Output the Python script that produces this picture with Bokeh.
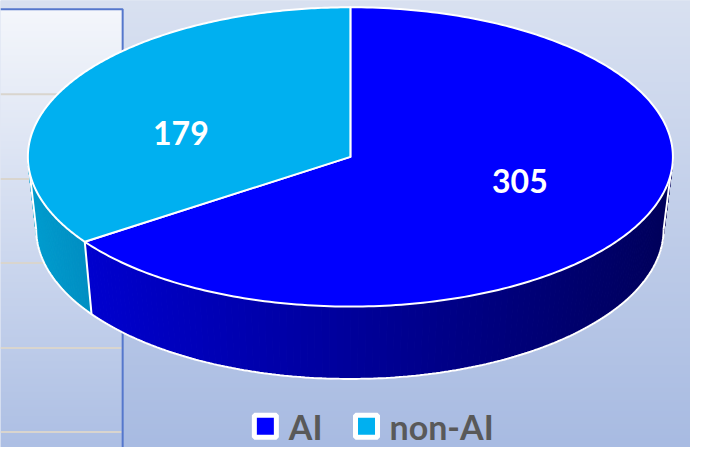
import numpy as np
from bokeh.plotting import figure
from bokeh.models import Range1d
from bokeh.core.properties import value
from bokeh.embed import file_html
from bokeh.resources import INLINE

# ---- data ----
categories = ["AI", "non-AI"]
counts = [305, 179]

# ---- styles ----
top_colors = ["#0000FF", "#00B0F0"]
side_left_rgb = [(0, 0, 206), (0, 156, 206)]
side_right_rgb = [(0, 0, 92), (0, 140, 192)]
label_font = "Lato"

# ---- geometry (reference pixel space, y downward) ----
CX, CY, A, B = 358.0, 162.0, 330.0, 155.0        # top ellipse
CXB, CYB, AB, BB = 357.5, 237.0, 321.0, 155.0    # bottom ellipse
WARP = 8.6                                       # perspective warp (deg)
REF_W, REF_H = 706, 463


def warp(theta):
    u = np.radians(np.asarray(theta, dtype=float) - 90.0)
    return np.asarray(theta, dtype=float) + WARP * np.sin(2 * u)


def top_pt(theta, r=1.0):
    t = np.radians(warp(theta))
    return CX + r * A * np.cos(t), CY + r * B * np.sin(t)


def bot_pt(theta):
    t = np.radians(warp(theta))
    return CXB + AB * np.cos(t), CYB + BB * np.sin(t)


p = figure(width=690, height=447, x_range=Range1d(0, REF_W), y_range=Range1d(-REF_H, 0),
           output_backend="svg", toolbar_location=None, min_border=0,
           x_axis_type=None, y_axis_type=None)
p.grid.visible = False
p.outline_line_color = None
p.background_fill_color = "#C4D0EA"
p.border_fill_color = "#C4D0EA"

# ---- background gradient ----
H, W = 463, 706
yref = REF_H - (np.arange(H) + 0.5)
xref = np.arange(W) + 0.5
fy = (yref / float(REF_H))[:, None]
out_top = np.array([217, 225, 241.0]); out_bot = np.array([168, 187, 226.0])
pan_top = np.array([246, 248, 252.0]); pan_bot = np.array([173, 191, 228.0])
rgb = np.zeros((H, W, 3))
inside = (xref[None, :] < 125) & (yref[:, None] > 9)
for c in range(3):
    o = out_top[c] + (out_bot[c] - out_top[c]) * fy
    pn = pan_top[c] + (pan_bot[c] - pan_top[c]) * fy
    rgb[..., c] = np.where(inside, pn, o)
img = np.empty((H, W), dtype=np.uint32)
view = img.view(dtype=np.uint8).reshape((H, W, 4))
view[..., 0] = rgb[..., 0].astype(np.uint8)
view[..., 1] = rgb[..., 1].astype(np.uint8)
view[..., 2] = rgb[..., 2].astype(np.uint8)
view[..., 3] = 255
p.image_rgba(image=[img], x=0, y=-REF_H, dw=REF_W, dh=REF_H)

# panel gridlines and border (behind chart)
for gy in [97, 185, 272, 360, 447]:
    p.line([0, 124], [-gy, -gy], line_color="#D9D5CE", line_width=2)
p.line([0, 125, 125], [-9, -9, -REF_H], line_color="#5577CC", line_width=2)

# ---- slice angles from data ----
total = float(sum(counts))
starts, ends = [], []
ang = -90.0
for c in counts:
    starts.append(ang)
    ang += 360.0 * c / total
    ends.append(ang)


def lerp_col(c0, c1, f):
    f = min(max(f, 0.0), 1.0)
    return "#%02x%02x%02x" % tuple(int(round(a + (b - a) * f)) for a, b in zip(c0, c1))


# ---- side walls (visible front half: theta in [0,180]) ----
for i in range(len(categories)):
    lo_v, hi_v = max(starts[i], 0.0), min(ends[i], 180.0)
    if hi_v <= lo_v:
        continue
    n = int(np.ceil(hi_v - lo_v))
    th = np.linspace(lo_v, hi_v, n + 1)
    xs, ys, cols = [], [], []
    x0 = 90.0 if i == 0 else 30.0
    x1 = 680.0 if i == 0 else 95.0
    for k in range(n):
        tx0, ty0 = top_pt(th[k]); tx1, ty1 = top_pt(th[k + 1])
        bx0, by0 = bot_pt(th[k]); bx1, by1 = bot_pt(th[k + 1])
        xs.append([tx0, tx1, bx1, bx0])
        ys.append([-ty0, -ty1, -by1, -by0])
        xm = (tx0 + tx1) / 2
        cols.append(lerp_col(side_left_rgb[i], side_right_rgb[i], (xm - x0) / (x1 - x0)))
    p.patches(xs, ys, fill_color=cols, line_color=cols, line_width=1)

# side outlines
thb = np.linspace(0, 180, 300)
bx, by = bot_pt(thb)
p.line(bx, -by, line_color="white", line_width=2)
for th in [0.0, 180.0] + [e for e in ends[:-1] if 0 < e < 180]:
    tx, ty = top_pt(th); bx_, by_ = bot_pt(th)
    p.line([tx, bx_], [-ty, -by_], line_color="white", line_width=2)

# ---- top faces ----
for i in range(len(categories)):
    th = np.linspace(starts[i], ends[i], 300)
    ax, ay = top_pt(th)
    xs = np.concatenate([[CX], ax, [CX]])
    ys = np.concatenate([[CY], ay, [CY]])
    p.patch(xs, -ys, fill_color=top_colors[i], line_color="white", line_width=2,
            line_join="round")

# ---- data labels ----
lx, ly = [], []
for i in range(len(categories)):
    mid = (starts[i] + ends[i]) / 2.0
    x, y = top_pt(mid, r=0.55)
    lx.append(float(x)); ly.append(-float(y))
p.text(x=lx, y=ly, text=[str(c) for c in counts], text_font=value(label_font),
       text_font_style="bold", text_font_size="32px", text_color="white",
       text_align="center", text_baseline="middle")

# ---- legend ----
leg_sq_x = [271, 374.5]
leg_tx_x = [295, 398]
p.scatter(x=leg_sq_x, y=[-441, -441], marker="square", size=22, fill_color=top_colors,
          line_color="white", line_width=5)
p.text(x=leg_tx_x, y=[-441, -441], text=categories, text_font=value(label_font),
       text_font_style="bold", text_font_size="34px", text_color="#595959",
       text_align="left", text_baseline="middle")

open("out.html", "w").write(file_html(p, INLINE))
